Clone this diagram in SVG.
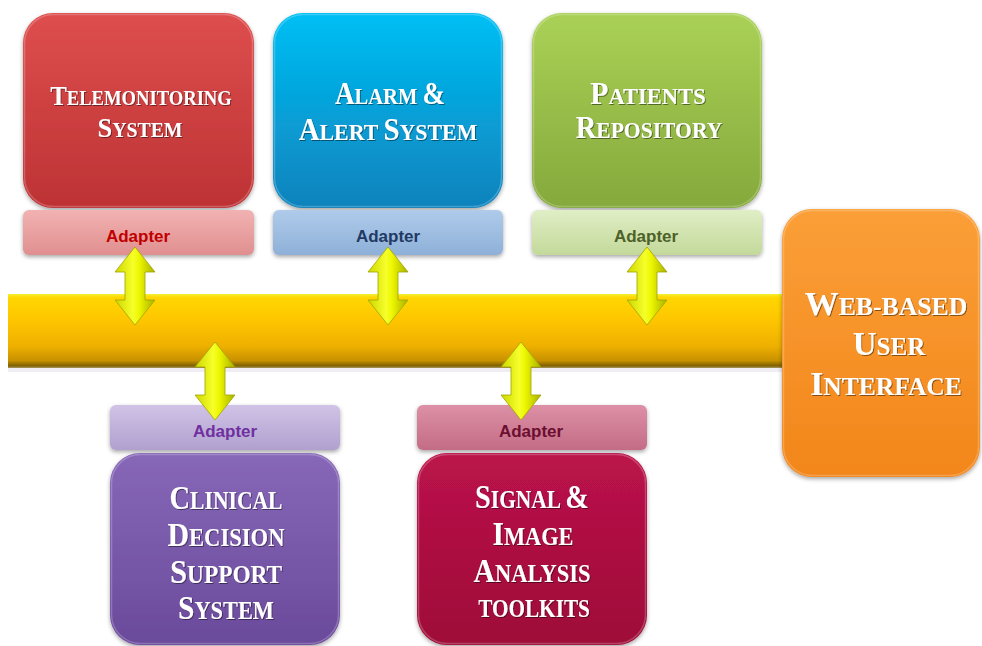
<svg xmlns="http://www.w3.org/2000/svg" width="982" height="646" viewBox="0 0 982 646">
  <style>
    .title { font-family: "Liberation Serif", "DejaVu Serif", serif; font-weight: bold; fill: #ffffff; text-anchor: middle; filter: url(#txtShadow); }
    .adapter { font-family: "Liberation Sans", Arial, sans-serif; font-weight: bold; font-size: 17px; text-anchor: middle; }
    .box { filter: url(#boxShadow); }
    .rim { fill: none; stroke: #ffffff; stroke-opacity: 0.22; stroke-width: 1.5; }
    .arrow { fill: url(#gArrow); stroke: #9fa400; stroke-width: 0.8; }
  </style>
  <defs>
    <filter id="boxShadow" x="-10%" y="-10%" width="120%" height="125%">
      <feDropShadow dx="0" dy="2" stdDeviation="2" flood-color="#000" flood-opacity="0.35"/>
    </filter>
    <filter id="txtShadow" x="-5%" y="-20%" width="110%" height="140%">
      <feDropShadow dx="1" dy="1" stdDeviation="0.7" flood-color="#000" flood-opacity="0.45"/>
    </filter>
    <linearGradient id="gBar" x1="0" y1="0" x2="0" y2="1">
      <stop offset="0" stop-color="#f4ef30"/>
      <stop offset="0.05" stop-color="#ffd600"/>
      <stop offset="0.35" stop-color="#fec600"/>
      <stop offset="0.7" stop-color="#efb000"/>
      <stop offset="0.9" stop-color="#c89200"/>
      <stop offset="0.97" stop-color="#7e6000"/>
      <stop offset="1" stop-color="#a89860"/>
    </linearGradient>
    <linearGradient id="gRed" x1="0" y1="0" x2="0" y2="1">
      <stop offset="0" stop-color="#de4e4e"/>
      <stop offset="1" stop-color="#bd3234"/>
    </linearGradient>
    <linearGradient id="gBlue" x1="0" y1="0" x2="0" y2="1">
      <stop offset="0" stop-color="#03bff4"/>
      <stop offset="1" stop-color="#0a82bc"/>
    </linearGradient>
    <linearGradient id="gGreen" x1="0" y1="0" x2="0" y2="1">
      <stop offset="0" stop-color="#aad156"/>
      <stop offset="1" stop-color="#85a93c"/>
    </linearGradient>
    <linearGradient id="gOrange" x1="0" y1="0" x2="0" y2="1">
      <stop offset="0" stop-color="#fb9f38"/>
      <stop offset="1" stop-color="#f2861a"/>
    </linearGradient>
    <linearGradient id="gPurple" x1="0" y1="0" x2="0" y2="1">
      <stop offset="0" stop-color="#8767b8"/>
      <stop offset="1" stop-color="#6a4a9b"/>
    </linearGradient>
    <linearGradient id="gMaroon" x1="0" y1="0" x2="0" y2="1">
      <stop offset="0" stop-color="#bb134b"/>
      <stop offset="1" stop-color="#9e0a38"/>
    </linearGradient>
    <linearGradient id="aRed" x1="0" y1="0" x2="0" y2="1">
      <stop offset="0" stop-color="#f2b2b2"/>
      <stop offset="1" stop-color="#e08f8f"/>
    </linearGradient>
    <linearGradient id="aBlue" x1="0" y1="0" x2="0" y2="1">
      <stop offset="0" stop-color="#afcbea"/>
      <stop offset="1" stop-color="#8eb0d8"/>
    </linearGradient>
    <linearGradient id="aGreen" x1="0" y1="0" x2="0" y2="1">
      <stop offset="0" stop-color="#e0eec6"/>
      <stop offset="1" stop-color="#c3d99a"/>
    </linearGradient>
    <linearGradient id="aPurple" x1="0" y1="0" x2="0" y2="1">
      <stop offset="0" stop-color="#d0c3e6"/>
      <stop offset="1" stop-color="#b1a0cf"/>
    </linearGradient>
    <linearGradient id="aMaroon" x1="0" y1="0" x2="0" y2="1">
      <stop offset="0" stop-color="#dc90a6"/>
      <stop offset="1" stop-color="#c46c86"/>
    </linearGradient>
    <linearGradient id="gArrow" x1="0" y1="0" x2="1" y2="0">
      <stop offset="0" stop-color="#cdd600"/>
      <stop offset="0.45" stop-color="#f6ff2a"/>
      <stop offset="0.6" stop-color="#eef700"/>
      <stop offset="1" stop-color="#a9b000"/>
    </linearGradient>
    <!-- double-headed vertical arrow, 40 wide, 78 tall, origin at top tip -->
    <path id="dblArrow" class="arrow" d="M0,0 L20,25 L10,25 L10,53 L20,53 L0,78 L-20,53 L-10,53 L-10,25 L-20,25 Z"/>
  </defs>

  <rect width="982" height="646" fill="#ffffff"/>

  <!-- shared bus -->
  <g id="bus">
    <rect x="8" y="368" width="790" height="4" fill="#e8e4ee" opacity="0.7"/>
    <rect x="8" y="294" width="790" height="74" fill="url(#gBar)"/>
  </g>

  <!-- top row; titles are squeezed horizontally with scale() -->
  <g id="telemonitoring">
    <rect class="box" x="23" y="13" width="231" height="195" rx="30" fill="url(#gRed)"/>
    <rect class="rim" x="24.5" y="14.5" width="228" height="192" rx="29"/>
    <text class="title" font-size="21" transform="translate(141,105) scale(0.886,1)"><tspan font-size="28">T</tspan>ELEMONITORING</text>
    <text class="title" font-size="21" transform="translate(140,137) scale(0.942,1)"><tspan font-size="28">S</tspan>YSTEM</text>
  </g>
  <g id="telemonitoring-adapter">
    <rect class="box" x="23" y="210" width="231" height="45" rx="6" fill="url(#aRed)"/>
    <text class="adapter" x="138" y="242" fill="#c00000">Adapter</text>
  </g>

  <g id="alarm">
    <rect class="box" x="273" y="13" width="230" height="195" rx="30" fill="url(#gBlue)"/>
    <rect class="rim" x="274.5" y="14.5" width="227" height="192" rx="29"/>
    <text class="title" font-size="23.5" transform="translate(390,104) scale(0.874,1)"><tspan font-size="31">A</tspan>LARM <tspan font-size="31">&amp;</tspan></text>
    <text class="title" font-size="23.5" transform="translate(388,140) scale(0.932,1)"><tspan font-size="31">A</tspan>LERT <tspan font-size="31">S</tspan>YSTEM</text>
  </g>
  <g id="alarm-adapter">
    <rect class="box" x="273" y="210" width="230" height="45" rx="6" fill="url(#aBlue)"/>
    <text class="adapter" x="388" y="242" fill="#1f3a64">Adapter</text>
  </g>

  <g id="patients">
    <rect class="box" x="532" y="13" width="230" height="195" rx="30" fill="url(#gGreen)"/>
    <rect class="rim" x="533.5" y="14.5" width="227" height="192" rx="29"/>
    <text class="title" font-size="23.5" transform="translate(648,104) scale(0.958,1)"><tspan font-size="31">P</tspan>ATIENTS</text>
    <text class="title" font-size="23.5" transform="translate(649,138) scale(0.92,1)"><tspan font-size="31">R</tspan>EPOSITORY</text>
  </g>
  <g id="patients-adapter">
    <rect class="box" x="532" y="210" width="230" height="45" rx="6" fill="url(#aGreen)"/>
    <text class="adapter" x="646" y="242" fill="#4e6128">Adapter</text>
  </g>

  <!-- user interface at the end of the bus -->
  <g id="web-ui">
    <rect class="box" x="782" y="209" width="198" height="268" rx="30" fill="url(#gOrange)"/>
    <rect class="rim" x="783.5" y="210.5" width="195" height="265" rx="29"/>
    <text class="title" font-size="25" transform="translate(886,315) scale(1.03,1)"><tspan font-size="33">W</tspan>EB-BASED</text>
    <text class="title" font-size="25" transform="translate(889,355)"><tspan font-size="33">U</tspan>SER</text>
    <text class="title" font-size="25" transform="translate(886,395) scale(1.02,1)"><tspan font-size="33">I</tspan>NTERFACE</text>
  </g>

  <!-- bottom row -->
  <g id="clinical-adapter">
    <rect class="box" x="110" y="405" width="230" height="45" rx="6" fill="url(#aPurple)"/>
    <text class="adapter" x="225" y="437" fill="#7030a0">Adapter</text>
  </g>
  <g id="clinical">
    <rect class="box" x="110" y="453" width="230" height="192" rx="30" fill="url(#gPurple)"/>
    <rect class="rim" x="111.5" y="454.5" width="227" height="189" rx="29"/>
    <text class="title" font-size="25" transform="translate(226,509) scale(0.864,1)"><tspan font-size="33">C</tspan>LINICAL</text>
    <text class="title" font-size="25" transform="translate(226,546) scale(0.904,1)"><tspan font-size="33">D</tspan>ECISION</text>
    <text class="title" font-size="25" transform="translate(226,583) scale(0.933,1)"><tspan font-size="33">S</tspan>UPPORT</text>
    <text class="title" font-size="25" transform="translate(226,619) scale(0.895,1)"><tspan font-size="33">S</tspan>YSTEM</text>
  </g>

  <g id="signal-adapter">
    <rect class="box" x="417" y="405" width="230" height="45" rx="6" fill="url(#aMaroon)"/>
    <text class="adapter" x="531" y="437" fill="#6b0f30">Adapter</text>
  </g>
  <g id="signal">
    <rect class="box" x="417" y="453" width="230" height="192" rx="30" fill="url(#gMaroon)"/>
    <rect class="rim" x="418.5" y="454.5" width="227" height="189" rx="29"/>
    <text class="title" font-size="25" transform="translate(532,508) scale(0.858,1)"><tspan font-size="33">S</tspan>IGNAL <tspan font-size="33">&amp;</tspan></text>
    <text class="title" font-size="25" transform="translate(533,545) scale(0.894,1)"><tspan font-size="33">I</tspan>MAGE</text>
    <text class="title" font-size="25" transform="translate(532,582) scale(0.9,1)"><tspan font-size="33">A</tspan>NALYSIS</text>
    <text class="title" font-size="25" transform="translate(534,617) scale(0.85,1)">TOOLKITS</text>
  </g>

  <!-- adapter-to-bus links -->
  <g id="connectors">
    <use href="#dblArrow" transform="translate(135,247)"/>
    <use href="#dblArrow" transform="translate(388,247)"/>
    <use href="#dblArrow" transform="translate(647,247)"/>
    <use href="#dblArrow" transform="translate(215,342)"/>
    <use href="#dblArrow" transform="translate(521,342)"/>
  </g>
</svg>
